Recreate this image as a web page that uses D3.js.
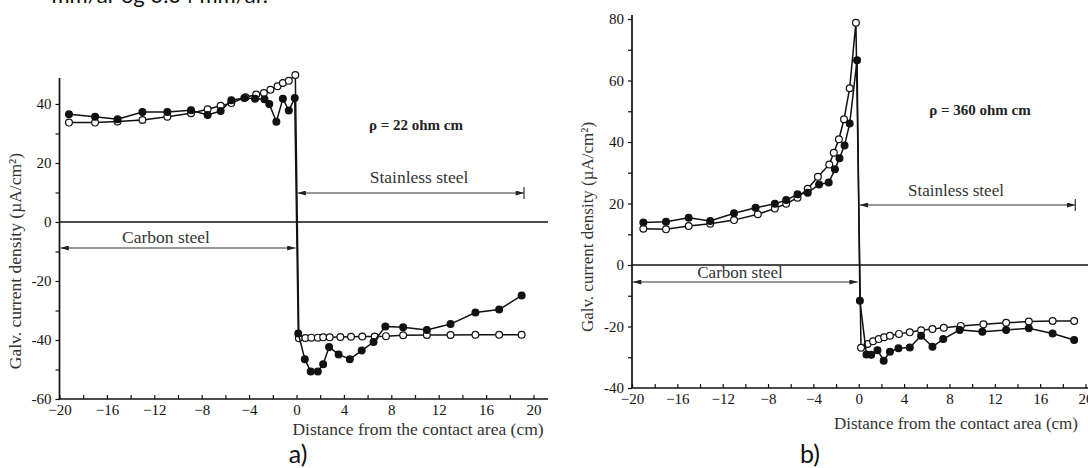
<!DOCTYPE html>
<html>
<head>
<meta charset="utf-8">
<style>
  body { margin: 0; background: #fff; }
  svg { display: block; }
  .tick text { font-family: "Liberation Serif", serif; font-size: 15px; fill: #111; }
  .tick line { stroke: #111; stroke-width: 1.2; }
  .serif { font-family: "Liberation Serif", serif; fill: #333; }
  .sans { font-family: Lato, "Open Sans", sans-serif; fill: #111; }
</style>
</head>
<body>
<div id="chart"></div>
<script src="https://cdn.jsdelivr.net/npm/d3@7"></script>
<script>
// tick values
var xTickValues = [-20, -18, -16, -14, -12, -10, -8, -6, -4, -2, 0, 2, 4, 6, 8, 10, 12, 14, 16, 18, 20];
var aYTickValues = [-60, -50, -40, -30, -20, -10, 0, 10, 20, 30, 40];
var bYTickValues = [-40, -30, -20, -10, 0, 10, 20, 30, 40, 50, 60, 70, 80];

// a) rho = 22 ohm cm
var aFilledX = [-19.2, -17.0, -15.1, -13.0, -10.9, -8.9, -7.5, -6.4, -5.5, -4.4, -3.5, -2.7, -2.3, -1.7, -1.15, -0.65, -0.15,
                0.15, 0.7, 1.2, 1.8, 2.25, 2.75, 3.55, 4.5, 5.5, 6.5, 7.5, 9.0, 11.0, 13.0, 15.1, 17.1, 19.0];
var aFilledY = [36.5, 35.7, 34.8, 37.3, 37.3, 37.9, 36.3, 37.6, 41.3, 42.0, 41.8, 41.6, 40.0, 34.0, 41.8, 37.8, 42.0,
                -37.8, -46.5, -50.7, -50.7, -48.2, -42.4, -44.9, -46.5, -43.6, -40.7, -35.4, -35.7, -36.6, -34.6, -30.7, -29.7, -24.9];
var aOpenX = [-19.2, -17.0, -15.1, -13.0, -10.9, -8.9, -7.5, -6.4, -5.5, -4.3, -3.4, -2.75, -2.2, -1.6, -1.15, -0.65, -0.1,
              0.2, 0.75, 1.25, 1.8, 2.25, 2.8, 3.7, 4.6, 5.55, 6.6, 7.55, 9.0, 11.0, 13.0, 15.1, 17.1, 19.0];
var aOpenY = [33.7, 33.7, 34.1, 34.6, 35.7, 36.9, 38.2, 39.4, 40.3, 42.3, 43.2, 43.7, 44.8, 46.0, 47.1, 47.9, 49.8,
              -39.4, -39.3, -39.2, -39.2, -39.1, -39.1, -39.0, -38.9, -38.8, -38.8, -38.7, -38.4, -38.3, -38.3, -38.2, -38.2, -38.2];

// b) rho = 360 ohm cm
var bFilledX = [-19.0, -17.0, -15.0, -13.1, -11.0, -9.1, -7.4, -6.4, -5.4, -4.5, -3.5, -2.65, -2.1, -1.7, -1.25, -0.8, -0.15,
                0.1, 0.68, 1.1, 1.65, 2.2, 2.75, 3.5, 4.5, 5.5, 6.5, 7.45, 8.9, 10.9, 13.0, 15.0, 17.1, 19.0];
var bFilledY = [13.8, 14.1, 15.4, 14.3, 16.8, 18.6, 19.9, 21.1, 23.0, 23.5, 26.2, 26.8, 31.1, 34.7, 38.9, 46.0, 66.6,
                -11.6, -29.1, -29.2, -27.7, -31.1, -28.2, -27.1, -26.8, -23.0, -26.6, -24.1, -21.1, -21.7, -21.1, -20.6, -22.3, -24.4];
var bOpenX = [-19.0, -17.0, -15.0, -13.1, -11.0, -8.9, -7.4, -6.4, -5.4, -4.5, -3.6, -2.6, -2.2, -1.75, -1.3, -0.8, -0.25,
              0.2, 0.78, 1.26, 1.76, 2.24, 2.75, 3.55, 4.5, 5.5, 6.5, 7.5, 9.0, 11.0, 13.0, 15.0, 17.1, 19.0];
var bOpenY = [11.8, 11.6, 12.7, 13.4, 14.6, 16.5, 18.4, 19.9, 21.9, 24.8, 28.7, 32.7, 36.5, 40.9, 47.4, 57.5, 78.8,
              -26.9, -25.7, -24.8, -24.1, -23.5, -23.0, -22.4, -21.9, -21.2, -20.8, -20.4, -19.8, -19.3, -18.8, -18.4, -18.2, -18.2];

var width = 1088,
    height = 468;

var svg = d3.select("#chart")
  .append("svg")
    .attr("width", width)
    .attr("height", height);

svg.append("defs").append("marker")
    .attr("id", "arrow")
    .attr("viewBox", "0 0 10 6")
    .attr("refX", 10)
    .attr("refY", 3)
    .attr("markerWidth", 9)
    .attr("markerHeight", 5)
    .attr("markerUnits", "userSpaceOnUse")
    .attr("orient", "auto-start-reverse")
  .append("path")
    .attr("d", "M0,0L10,3L0,6Z")
    .attr("fill", "#222");

// cut-off line of body text above the figure
svg.append("text")
    .attr("class", "sans")
    .attr("x", 268)
    .attr("y", 3)
    .attr("text-anchor", "end")
    .style("font-size", "22px")
    .text("mm/år og 0.04 mm/år.");

function zip(xs, ys) {
  return xs.map(function(d, i) { return [d, ys[i]]; });
}

function drawPanel(p) {
  var g = svg.append("g");
  var x = d3.scaleLinear().domain([-20, 20]).range(p.xRange);
  var y = d3.scaleLinear().domain(p.yDomain).range(p.yRange);

  // zero line and axis lines
  g.append("line")
      .attr("x1", x(-20)).attr("x2", p.lineEnd)
      .attr("y1", y(0)).attr("y2", y(0))
      .attr("stroke", "#111").attr("stroke-width", 1.7);
  g.append("line")
      .attr("x1", x(-20) - 1).attr("x2", p.lineEnd)
      .attr("y1", y(p.yDomain[0])).attr("y2", y(p.yDomain[0]))
      .attr("stroke", "#111").attr("stroke-width", 1.7);
  g.append("line")
      .attr("x1", x(-20)).attr("x2", x(-20))
      .attr("y1", y(p.yDomain[0])).attr("y2", p.yAxisTop)
      .attr("stroke", "#111").attr("stroke-width", 1.7);

  g.append("g")
      .attr("transform", "translate(0," + y(p.yDomain[0]) + ")")
      .call(d3.axisBottom(x)
        .tickValues(xTickValues)
        .tickSizeInner(-4)
        .tickSizeOuter(0)
        .tickPadding(5)
        .tickFormat(function(d) { return d % 4 === 0 ? d3.format("")(d) : ""; }))
      .call(function(a) { a.select(".domain").remove(); });

  g.append("g")
      .attr("transform", "translate(" + x(-20) + ",0)")
      .call(d3.axisLeft(y)
        .tickValues(p.yTicks)
        .tickSizeInner(4)
        .tickSizeOuter(0)
        .tickPadding(4)
        .tickFormat(function(d) { return d % 20 === 0 ? String(d) : ""; }))
      .call(function(a) { a.select(".domain").remove(); });

  // series
  var line = d3.line()
      .x(function(d) { return x(d[0]); })
      .y(function(d) { return y(d[1]); });

  [{ data: zip(p.openX, p.openY), fill: "#fff" },
   { data: zip(p.filledX, p.filledY), fill: "#111" }].forEach(function(s) {
    g.append("path")
        .datum(s.data)
        .attr("d", line)
        .attr("fill", "none")
        .attr("stroke", "#111")
        .attr("stroke-width", 1.5);
    g.selectAll(null)
        .data(s.data)
      .enter().append("circle")
        .attr("cx", function(d) { return x(d[0]); })
        .attr("cy", function(d) { return y(d[1]); })
        .attr("r", 3.4)
        .attr("fill", s.fill)
        .attr("stroke", "#111")
        .attr("stroke-width", 1.2);
  });

  // annotations
  g.append("text")
      .attr("class", "serif")
      .attr("x", p.rho[0]).attr("y", p.rho[1])
      .attr("text-anchor", "middle")
      .style("font-size", "15px").style("font-weight", "bold").style("fill", "#222")
      .text(p.rhoText);

  g.append("text")
      .attr("class", "serif")
      .attr("x", p.stainless[0]).attr("y", p.stainless[1])
      .attr("text-anchor", "middle")
      .style("font-size", p.fs + "px")
      .text("Stainless steel");
  g.append("line")
      .attr("x1", x(0) + 1).attr("x2", x(p.stainlessEnd))
      .attr("y1", p.stainlessArrowY).attr("y2", p.stainlessArrowY)
      .attr("stroke", "#333").attr("stroke-width", 1)
      .attr("marker-start", "url(#arrow)")
      .attr("marker-end", "url(#arrow)");
  g.append("line")
      .attr("x1", x(p.stainlessEnd)).attr("x2", x(p.stainlessEnd))
      .attr("y1", p.stainlessArrowY - 6).attr("y2", p.stainlessArrowY + 6)
      .attr("stroke", "#333").attr("stroke-width", 1.2);

  g.append("text")
      .attr("class", "serif")
      .attr("x", p.carbon[0]).attr("y", p.carbon[1])
      .attr("text-anchor", "middle")
      .style("font-size", p.fs + "px")
      .text("Carbon steel");
  g.append("line")
      .attr("x1", x(-20) + 1).attr("x2", x(0) - 1)
      .attr("y1", p.carbonArrowY).attr("y2", p.carbonArrowY)
      .attr("stroke", "#333").attr("stroke-width", 1)
      .attr("marker-start", "url(#arrow)")
      .attr("marker-end", "url(#arrow)");

  // axis titles
  g.append("text")
      .attr("class", "serif")
      .attr("x", p.xTitle[0]).attr("y", p.xTitle[1])
      .attr("text-anchor", "middle")
      .style("font-size", p.fs + "px")
      .text("Distance from the contact area (cm)");
  g.append("text")
      .attr("class", "serif")
      .attr("transform", "translate(" + p.yTitle[0] + "," + p.yTitle[1] + ") rotate(-90)")
      .attr("text-anchor", "middle")
      .style("font-size", p.fs + "px")
      .text("Galv. current density (\u00b5A/cm\u00b2)");

  svg.append("text")
      .attr("class", "sans")
      .attr("x", p.label[0]).attr("y", p.label[1])
      .attr("text-anchor", "middle")
      .style("font-size", "25px")
      .text(p.labelText);
}

drawPanel({
  xRange: [59.5, 533.5], yDomain: [-60, 50], yRange: [399, 74.5],
  yTicks: aYTickValues, yAxisTop: 78, lineEnd: 548,
  filledX: aFilledX, filledY: aFilledY, openX: aOpenX, openY: aOpenY,
  rhoText: "\u03c1 = 22 ohm cm", rho: [416, 130],
  stainless: [419, 183], stainlessArrowY: 193, stainlessEnd: 19.2,
  carbon: [166, 243], carbonArrowY: 248,
  xTitle: [418, 435], yTitle: [21, 261], fs: 17.5,
  label: [298, 463], labelText: "a)"
});

drawPanel({
  xRange: [632, 1085.5], yDomain: [-40, 80], yRange: [388, 19],
  yTicks: bYTickValues, yAxisTop: 15, lineEnd: 1088,
  filledX: bFilledX, filledY: bFilledY, openX: bOpenX, openY: bOpenY,
  rhoText: "\u03c1 = 360 ohm cm", rho: [980, 115],
  stainless: [956, 196], stainlessArrowY: 205, stainlessEnd: 19.1,
  carbon: [740, 278], carbonArrowY: 282,
  xTitle: [956, 429], yTitle: [593, 227], fs: 17,
  label: [810, 463], labelText: "b)"
});
</script>
</body>
</html>
